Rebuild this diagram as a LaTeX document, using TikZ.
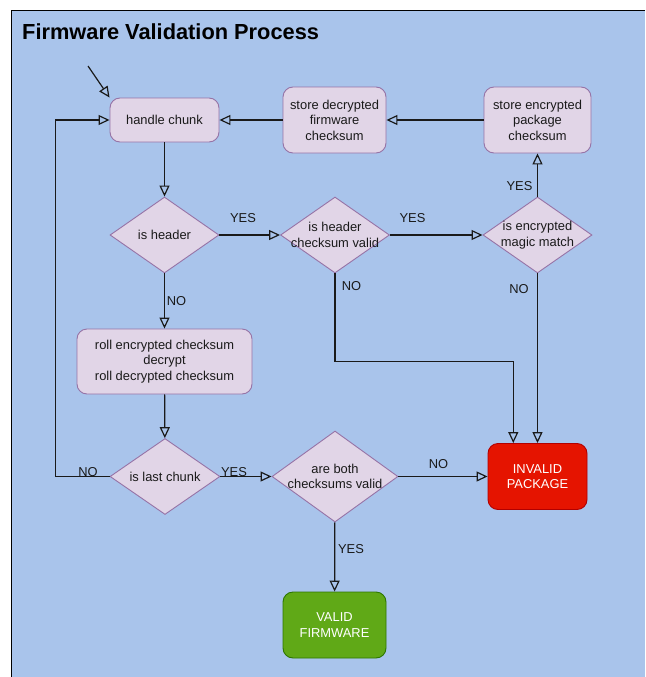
\documentclass[tikz,border=0pt]{standalone}
\usepackage{fontspec}
\setmainfont{Liberation Sans}
\usetikzlibrary{shapes.geometric,arrows.meta}
\definecolor{canvas}{HTML}{A9C4EB}
\definecolor{boxfill}{HTML}{E1D5E7}
\definecolor{boxline}{HTML}{9673A6}
\definecolor{badfill}{HTML}{E51400}
\definecolor{badline}{HTML}{B20000}
\definecolor{okfill}{HTML}{60A917}
\definecolor{okline}{HTML}{2D7600}
\definecolor{ink}{HTML}{1A1A1A}
\begin{document}
\begin{tikzpicture}[x=1pt,y=-1pt,
  base/.style={font=\fontsize{12.9}{15.4}\selectfont, text=ink, align=center, inner sep=0pt},
  stepbox/.style={base, rectangle, rounded corners=10pt, draw=boxline, fill=boxfill, line width=0.9pt},
  choice/.style={diamond, inner sep=0pt, draw=boxline, fill=boxfill, line width=0.9pt},
  endbad/.style={stepbox, draw=badline, fill=badfill, text=white},
  endok/.style={stepbox, draw=okline, fill=okfill, text=white},
  tag/.style={base},
  link/.style={draw=ink, line width=1.2pt, -{Triangle[open,length=11pt,width=10pt]}}
]
\useasboundingbox (0,0) rectangle (645,677);
% canvas and frame
\fill[canvas] (11.5,10.5) rectangle (645,677);
\draw[black, line width=1.5pt] (11.5,677) -- (11.5,10.5) -- (645,10.5);

% title
\node[anchor=base west, inner sep=0pt, font=\fontsize{21.8}{26}\selectfont\bfseries, text=black] (title) at (22,40) {Firmware Validation Process};

% steps
\node[stepbox, minimum width=109pt, minimum height=44pt] (hc) at (164.5,120) {handle chunk};
\node[stepbox, minimum width=103pt, minimum height=66pt] (sd) at (334.5,120) {store decrypted\\firmware\\checksum};
\node[stepbox, minimum width=107pt, minimum height=66pt] (se) at (537.5,120) {store encrypted\\package\\checksum};
\node[stepbox, minimum width=175pt, minimum height=65pt] (roll) at (164.5,361.5) {roll encrypted checksum\\decrypt\\roll decrypted checksum};

% decisions
\node[choice, minimum width=109pt, minimum height=76pt, label={[base]center:{is header}}] (ih) at (164.5,235) {};
\node[choice, minimum width=109pt, minimum height=76pt, label={[base]center:{is header\\checksum valid}}] (hv) at (335,235) {};
\node[choice, minimum width=109pt, minimum height=76pt, label={[base]center:{is encrypted\\magic match}}] (mm) at (537.5,235) {};
\node[choice, minimum width=110pt, minimum height=76pt, label={[base]center:{is last chunk}}] (lc) at (165,476.5) {};
\node[choice, minimum width=126pt, minimum height=91pt, label={[base]center:{are both\\checksums valid}}] (both) at (335,476.5) {};

% outcomes
\node[endbad, minimum width=99pt, minimum height=66pt] (bad) at (537.5,476.5) {INVALID\\PACKAGE};
\node[endok, minimum width=103pt, minimum height=66pt] (good) at (334.5,625) {VALID\\FIRMWARE};

% helper points
\coordinate (start) at (88,66);
\coordinate (elbow) at (513.3,361.7);
\coordinate (loop) at (55.7,476.5);

% connectors
\draw[link] (start) -- (hc.north west);
\draw[link] (hc) -- (ih);
\draw[link] (ih) -- (hv);
\draw[link] (hv) -- (mm);
\draw[link] (mm) -- (se);
\draw[link] (se) -- (sd);
\draw[link] (sd) -- (hc);
\draw[link] (ih) -- (roll);
\draw[link] (hv.south) |- (elbow) -- (elbow |- bad.north);
\draw[link] (mm.south) -- (mm.south |- bad.north);
\draw[link] (roll) -- (lc);
\draw[link] (lc.west) -- (loop) |- (hc.west);
\draw[link] (lc) -- (both);
\draw[link] (both) -- (bad);
\draw[link] (both) -- (good);

% connector labels
\node[tag] (y1) at (243,218.5) {YES};
\node[tag] (y2) at (412.5,218.5) {YES};
\node[tag] (y3) at (519.5,186) {YES};
\node[tag] (n1) at (176.5,301) {NO};
\node[tag] (n2) at (351.5,286) {NO};
\node[tag] (n3) at (519,289) {NO};
\node[tag] (n4) at (88,472) {NO};
\node[tag] (y4) at (234,472) {YES};
\node[tag] (n5) at (438.5,464) {NO};
\node[tag] (y5) at (351,549.5) {YES};
\end{tikzpicture}
\end{document}
